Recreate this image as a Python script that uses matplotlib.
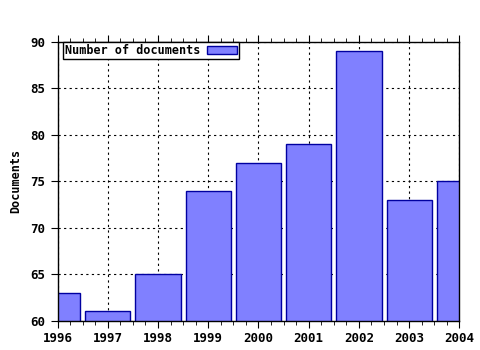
import matplotlib
matplotlib.use("Agg")
import matplotlib.pyplot as plt
from matplotlib.ticker import MultipleLocator

years = [1996, 1997, 1998, 1999, 2000, 2001, 2002, 2003, 2004]
docs = [63, 61, 65, 74, 77, 79, 89, 73, 75]
y_ticks = [60, 65, 70, 75, 80, 85, 90]

plt.rcParams['font.family'] = 'DejaVu Sans Mono'
plt.rcParams['font.weight'] = 'bold'

fig = plt.figure(figsize=(4.8, 3.5), dpi=100)
ax = fig.add_axes([0.120, 0.0837, 0.837, 0.797])

ax.bar(years, docs, width=0.9, color='#8080ff', edgecolor='#0000a0',
       linewidth=1.0, label='Number of documents', zorder=3)

ax.set_xlim(1996, 2004)
ax.set_ylim(60, 90)
ax.set_xticks(years)
ax.set_yticks(y_ticks)
ax.xaxis.set_minor_locator(MultipleLocator(0.25))
ax.tick_params(axis='x', which='major', direction='out', length=5,
               top=True, labelsize=9, pad=3)
ax.tick_params(axis='x', which='minor', direction='out', length=3, top=True)
ax.tick_params(axis='y', which='major', direction='out', length=5,
               labelsize=9, pad=4)
for lbl in ax.get_xticklabels() + ax.get_yticklabels():
    lbl.set_fontweight('bold')

ax.grid(True, which='major', color='black', linestyle=(0, (2, 3)),
        linewidth=0.8, zorder=1)
for s in ax.spines.values():
    s.set_linewidth(1.0)
    s.set_zorder(4)

ax.set_ylabel('Documents', fontsize=8.5, fontweight='bold', labelpad=6)

leg = ax.legend(loc='upper left', bbox_to_anchor=(0.014, 0.998), fontsize=8.5,
                frameon=True, fancybox=False, borderpad=0.15,
                handlelength=2.5, handleheight=0.6, handletextpad=0.6,
                markerfirst=False, borderaxespad=0.0)
leg.get_frame().set_edgecolor('black')
leg.get_frame().set_linewidth(1.0)
leg.get_frame().set_alpha(1)
for t in leg.get_texts():
    t.set_fontweight('bold')

fig.savefig('out.png', dpi=100)
